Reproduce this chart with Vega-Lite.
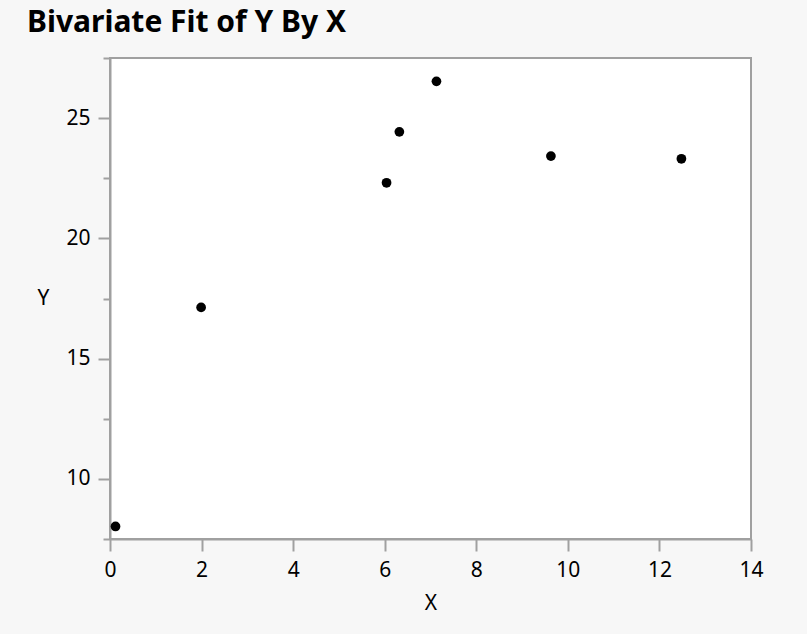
{
  "$schema": "https://vega.github.io/schema/vega-lite/v6.json",
  "autosize": {"type": "none"},
  "padding": {"left": 110, "top": 58, "right": 56, "bottom": 95},
  "width": 641,
  "height": 481,
  "background": "#f7f7f7",
  "view": {"fill": "white", "stroke": "#a0a0a0", "strokeWidth": 2},
  "title": {
    "text": "Bivariate Fit of Y By X",
    "anchor": "start",
    "frame": "group",
    "font": "Noto Sans",
    "fontSize": 30,
    "fontWeight": "bold",
    "color": "black",
    "dx": -83,
    "offset": 9
  },
  "data": {
    "values": [
      {"X": 0.12, "Y": 8.02},
      {"X": 1.99, "Y": 17.13},
      {"X": 6.04, "Y": 22.31},
      {"X": 6.32, "Y": 24.43},
      {"X": 7.13, "Y": 26.53},
      {"X": 9.63, "Y": 23.42},
      {"X": 12.48, "Y": 23.31}
    ]
  },
  "mark": {"type": "point", "filled": true, "color": "black", "opacity": 1, "size": 95},
  "encoding": {
    "x": {
      "field": "X",
      "type": "quantitative",
      "scale": {"domain": [0, 14], "nice": false, "zero": false},
      "axis": {
        "values": [0, 2, 4, 6, 8, 10, 12, 14],
        "grid": false,
        "domainColor": "#a0a0a0",
        "domainWidth": 2,
        "tickColor": "#a0a0a0",
        "tickWidth": 2,
        "tickSize": 12,
        "labelPadding": 8,
        "labelFont": "Noto Sans",
        "labelFontSize": 21,
        "labelColor": "black",
        "labelFlush": false,
        "titleFont": "Noto Sans",
        "titleFontSize": 21,
        "titleFontWeight": "normal",
        "titleColor": "black",
        "titleBaseline": "middle",
        "titleY": 64
      }
    },
    "y": {
      "field": "Y",
      "type": "quantitative",
      "scale": {"domain": [7.5, 27.5], "nice": false, "zero": false},
      "axis": {
        "values": [7.5, 10, 12.5, 15, 17.5, 20, 22.5, 25, 27.5],
        "labelExpr": "datum.value % 5 === 0 ? datum.label : ''",
        "grid": false,
        "domainColor": "#a0a0a0",
        "domainWidth": 2,
        "tickColor": "#a0a0a0",
        "tickWidth": 2,
        "tickSize": {"condition": {"test": "datum.value % 5 === 0", "value": 12}, "value": 7},
        "labelPadding": 8,
        "labelFont": "Noto Sans",
        "labelFontSize": 21,
        "labelColor": "black",
        "labelFlush": false,
        "labelOverlap": false,
        "titleFont": "Noto Sans",
        "titleFontSize": 21,
        "titleFontWeight": "normal",
        "titleColor": "black",
        "titleAngle": 0,
        "titleAlign": "center",
        "titleBaseline": "middle",
        "titleX": -67,
        "titleY": 240
      }
    }
  }
}
